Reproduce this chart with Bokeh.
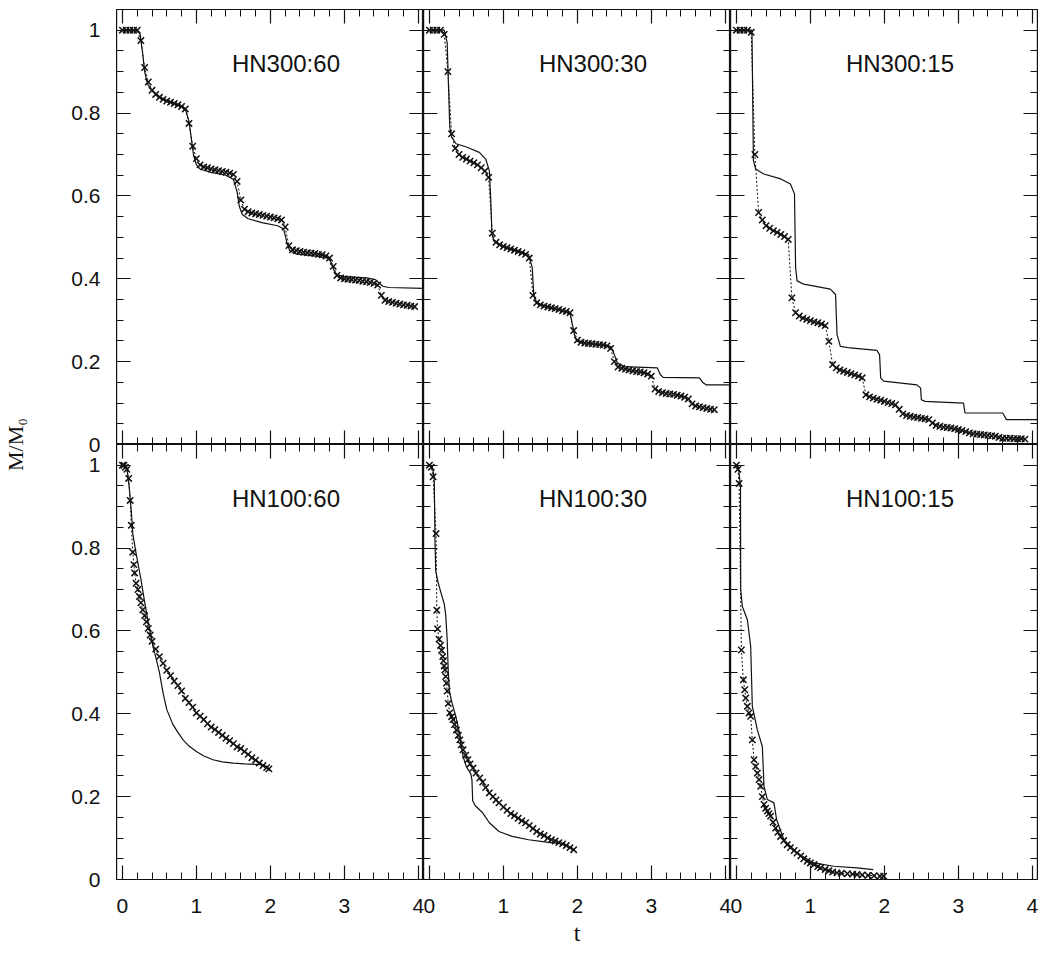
import numpy as np
from bokeh.plotting import figure
from bokeh.layouts import row, column
from bokeh.models import LinearAxis, FixedTicker, Label, Range1d
from bokeh.embed import file_html
from bokeh.resources import INLINE

# ---------------- data ----------------
panel_names = ["HN300:60", "HN300:30", "HN300:15", "HN100:60", "HN100:30", "HN100:15"]

x_tick_values = [0, 1, 2, 3, 4]
x_tick_labels = ["0", "1", "2", "3", "4"]
y_tick_values = [0.0, 0.2, 0.4, 0.6, 0.8, 1.0]
y_tick_labels = ["0", "0.2", "0.4", "0.6", "0.8", "1"]

# output times of the simulations shown with crosses (top row: every 0.05)
t_out_top = [round(0.05 * i, 2) for i in range(80)]

# HN300:60
line_t_300_60 = [0, 0.2, 0.24, 0.27, 0.30, 0.34, 0.4, 0.5, 0.6, 0.7, 0.8, 0.86, 0.9, 0.93, 0.96,
                 1.0, 1.05, 1.2, 1.4, 1.5, 1.55, 1.58, 1.62, 1.7, 1.9, 2.1, 2.18, 2.22, 2.26, 2.35,
                 2.6, 2.78, 2.82, 2.86, 2.9, 3.0, 3.3, 3.42, 3.47, 3.52, 3.6, 4.07]
line_m_300_60 = [1.0, 1.0, 0.99, 0.95, 0.90, 0.87, 0.855, 0.84, 0.83, 0.823, 0.815, 0.805, 0.78, 0.74, 0.70,
                 0.675, 0.665, 0.657, 0.65, 0.64, 0.61, 0.575, 0.555, 0.545, 0.535, 0.528, 0.52, 0.49, 0.468, 0.46,
                 0.455, 0.45, 0.44, 0.42, 0.41, 0.405, 0.402, 0.398, 0.39, 0.382, 0.379, 0.377]
mark_m_300_60 = [1.0, 1.0, 1.0, 1.0, 1.0, 0.975, 0.91, 0.875, 0.855, 0.845,
                 0.838, 0.833, 0.829, 0.826, 0.823, 0.82, 0.816, 0.81, 0.775, 0.72,
                 0.69, 0.675, 0.67, 0.668, 0.665, 0.663, 0.661, 0.659, 0.657, 0.655,
                 0.652, 0.635, 0.59, 0.568, 0.562, 0.559, 0.557, 0.555, 0.553, 0.551,
                 0.549, 0.547, 0.545, 0.542, 0.525, 0.48, 0.47, 0.468, 0.466, 0.464,
                 0.463, 0.462, 0.461, 0.459, 0.458, 0.455, 0.45, 0.43, 0.408, 0.402,
                 0.4, 0.399, 0.398, 0.397, 0.396, 0.394, 0.393, 0.391, 0.389, 0.385,
                 0.36, 0.348, 0.345, 0.343, 0.341, 0.339, 0.337, 0.336, 0.334, 0.333]

# HN300:30
line_t_300_30 = [0, 0.2, 0.24, 0.275, 0.30, 0.36, 0.5, 0.675, 0.76, 0.81, 0.83, 0.845, 0.875, 1.0, 1.12,
                 1.34, 1.39, 1.41, 1.45, 1.6, 1.9, 1.96, 1.99, 2.2, 2.45, 2.5, 2.54, 2.63, 3.08, 3.12,
                 3.16, 3.65, 3.7, 3.74, 4.07]
line_m_300_30 = [1.0, 1.0, 0.97, 0.766, 0.742, 0.726, 0.718, 0.705, 0.689, 0.661, 0.588, 0.508, 0.49, 0.478, 0.471,
                 0.459, 0.427, 0.362, 0.342, 0.332, 0.318, 0.266, 0.249, 0.243, 0.237, 0.217, 0.197, 0.188, 0.185, 0.169,
                 0.162, 0.161, 0.149, 0.144, 0.144]
mark_m_300_30 = [1.0, 1.0, 1.0, 1.0, 0.99, 0.90, 0.75, 0.715, 0.70, 0.693,
                 0.689, 0.684, 0.68, 0.675, 0.668, 0.66, 0.645, 0.51, 0.488, 0.482,
                 0.478, 0.475, 0.472, 0.469, 0.466, 0.463, 0.459, 0.45, 0.36, 0.342,
                 0.337, 0.334, 0.332, 0.33, 0.328, 0.326, 0.323, 0.321, 0.318, 0.275,
                 0.252, 0.247, 0.245, 0.244, 0.243, 0.242, 0.241, 0.24, 0.238, 0.232,
                 0.2, 0.187, 0.184, 0.182, 0.18, 0.178, 0.176, 0.175, 0.173, 0.17,
                 0.165, 0.134, 0.128, 0.125, 0.123, 0.122, 0.121, 0.119, 0.117, 0.114,
                 0.11, 0.098, 0.093, 0.091, 0.089, 0.087, 0.085, 0.084]

# HN300:15
line_t_300_15 = [0, 0.21, 0.23, 0.26, 0.37, 0.6, 0.73, 0.785, 0.80, 0.82, 0.91, 1.27, 1.34, 1.36, 1.405,
                 1.54, 1.9, 1.935, 1.95, 1.99, 2.44, 2.49, 2.5, 2.55, 3.07, 3.09, 3.6, 3.65, 4.07]
line_m_300_15 = [1.0, 1.0, 0.685, 0.665, 0.653, 0.641, 0.629, 0.605, 0.427, 0.395, 0.387, 0.375, 0.362, 0.266, 0.237,
                 0.233, 0.227, 0.217, 0.161, 0.153, 0.144, 0.136, 0.108, 0.104, 0.1, 0.076, 0.076, 0.06, 0.06]
mark_m_300_15 = [1.0, 1.0, 1.0, 1.0, 0.995, 0.70, 0.56, 0.542, 0.528, 0.522,
                 0.516, 0.512, 0.507, 0.502, 0.495, 0.354, 0.318, 0.31, 0.305, 0.302,
                 0.299, 0.296, 0.294, 0.291, 0.287, 0.249, 0.193, 0.185, 0.18, 0.177,
                 0.174, 0.171, 0.168, 0.165, 0.161, 0.12, 0.115, 0.112, 0.109, 0.107,
                 0.104, 0.101, 0.099, 0.096, 0.085, 0.074, 0.07, 0.068, 0.066, 0.065,
                 0.063, 0.062, 0.06, 0.052, 0.046, 0.044, 0.042, 0.041, 0.04, 0.038,
                 0.036, 0.034, 0.031, 0.028, 0.026, 0.025, 0.024, 0.023, 0.022, 0.021,
                 0.02, 0.017, 0.015, 0.015, 0.015, 0.014, 0.014, 0.014, 0.013]

# HN100:60
line_t_100_60 = [0, 0.05, 0.07, 0.09, 0.12, 0.14, 0.185, 0.25, 0.3, 0.35, 0.41, 0.46, 0.5, 0.55, 0.6,
                 0.68, 0.75, 0.82, 0.9, 1.0, 1.1, 1.225, 1.35, 1.5, 1.65, 1.88]
line_m_100_60 = [1.0, 1.0, 0.98, 0.95, 0.89, 0.835, 0.787, 0.725, 0.67, 0.62, 0.565, 0.53, 0.5, 0.45, 0.41,
                 0.375, 0.355, 0.337, 0.322, 0.309, 0.298, 0.289, 0.284, 0.281, 0.279, 0.277]
mark_t_100_60 = [0, 0.02, 0.04, 0.06, 0.085, 0.105, 0.12, 0.14, 0.155, 0.165, 0.185, 0.21, 0.23, 0.25, 0.275,
                 0.3, 0.325, 0.35, 0.375, 0.4, 0.45, 0.5, 0.55, 0.6, 0.65, 0.7, 0.75, 0.8, 0.85, 0.9,
                 0.95, 1.0, 1.05, 1.1, 1.15, 1.2, 1.25, 1.3, 1.35, 1.4, 1.45, 1.5, 1.55, 1.6, 1.65,
                 1.7, 1.75, 1.8, 1.85, 1.9, 1.95, 1.98]
mark_m_100_60 = [1.0, 1.0, 0.995, 0.99, 0.968, 0.915, 0.855, 0.79, 0.76, 0.74, 0.715, 0.70, 0.683, 0.668, 0.651,
                 0.637, 0.622, 0.606, 0.59, 0.575, 0.556, 0.538, 0.522, 0.505, 0.492, 0.479, 0.468, 0.455, 0.437, 0.427,
                 0.416, 0.402, 0.394, 0.386, 0.376, 0.368, 0.362, 0.355, 0.348, 0.341, 0.335, 0.328, 0.32, 0.316, 0.309,
                 0.302, 0.294, 0.288, 0.281, 0.275, 0.27, 0.267]

# HN100:30
line_t_100_30 = [0, 0.04, 0.065, 0.07, 0.075, 0.085, 0.12, 0.16, 0.2, 0.22, 0.24, 0.255, 0.27, 0.3, 0.35,
                 0.41, 0.45, 0.5, 0.56, 0.575, 0.585, 0.62, 0.72, 0.81, 0.94, 1.12, 1.34, 1.56, 1.74]
line_m_100_30 = [1.0, 0.995, 0.97, 0.9, 0.82, 0.745, 0.715, 0.69, 0.665, 0.64, 0.58, 0.5, 0.455, 0.43, 0.398,
                 0.352, 0.3, 0.272, 0.255, 0.24, 0.19, 0.178, 0.161, 0.137, 0.116, 0.104, 0.096, 0.091, 0.087]
mark_t_100_30 = [0, 0.025, 0.05, 0.09, 0.1, 0.11, 0.13, 0.15, 0.165, 0.18, 0.19, 0.2, 0.21, 0.22, 0.23,
                 0.24, 0.255, 0.275, 0.3, 0.32, 0.34, 0.365, 0.39, 0.41, 0.43, 0.455, 0.49, 0.52, 0.55, 0.59,
                 0.63, 0.68, 0.72, 0.76, 0.81, 0.86, 0.9, 0.94, 1.0, 1.05, 1.1, 1.15, 1.2, 1.25, 1.3,
                 1.35, 1.4, 1.45, 1.5, 1.55, 1.6, 1.65, 1.7, 1.75, 1.8, 1.85, 1.9, 1.95]
mark_m_100_30 = [1.0, 0.995, 0.972, 0.835, 0.65, 0.605, 0.58, 0.565, 0.553, 0.538, 0.528, 0.515, 0.506, 0.49, 0.474,
                 0.455, 0.425, 0.402, 0.393, 0.386, 0.374, 0.361, 0.348, 0.337, 0.325, 0.313, 0.30, 0.289, 0.279, 0.269,
                 0.257, 0.245, 0.235, 0.222, 0.209, 0.2, 0.192, 0.185, 0.175, 0.167, 0.159, 0.154, 0.148, 0.142, 0.137,
                 0.13, 0.123, 0.116, 0.11, 0.106, 0.1, 0.096, 0.093, 0.089, 0.086, 0.082, 0.077, 0.072]

# HN100:15
line_t_100_15 = [0, 0.03, 0.055, 0.058, 0.08, 0.148, 0.193, 0.215, 0.283, 0.35, 0.373, 0.418, 0.507, 0.543,
                 0.642, 0.82, 1.046, 1.315, 1.63, 1.85]
line_m_100_15 = [1.0, 0.99, 0.95, 0.7, 0.659, 0.627, 0.562, 0.418, 0.361, 0.321, 0.225, 0.193, 0.185, 0.145,
                 0.096, 0.064, 0.04, 0.032, 0.028, 0.024]
mark_t_100_15 = [0, 0.02, 0.036, 0.067, 0.094, 0.112, 0.126, 0.148, 0.17, 0.193, 0.215, 0.238, 0.26, 0.283, 0.305,
                 0.328, 0.35, 0.373, 0.395, 0.418, 0.44, 0.462, 0.495, 0.53, 0.56, 0.597, 0.64, 0.687, 0.73, 0.78,
                 0.82, 0.87, 0.91, 0.956, 1.0, 1.05, 1.1, 1.136, 1.2, 1.25, 1.3, 1.36, 1.42, 1.5, 1.57,
                 1.63, 1.7, 1.78, 1.86, 1.94, 1.99]
mark_m_100_15 = [1.0, 0.99, 0.956, 0.554, 0.482, 0.458, 0.438, 0.418, 0.402, 0.394, 0.337, 0.289, 0.273, 0.257, 0.241,
                 0.225, 0.2, 0.181, 0.172, 0.165, 0.159, 0.153, 0.138, 0.124, 0.114, 0.104, 0.094, 0.084, 0.077, 0.07,
                 0.064, 0.057, 0.05, 0.044, 0.04, 0.036, 0.031, 0.028, 0.024, 0.021, 0.018, 0.016, 0.015, 0.014, 0.013,
                 0.012, 0.011, 0.01, 0.009, 0.008, 0.008]

panels = [
    (line_t_300_60, line_m_300_60, t_out_top[:len(mark_m_300_60)], mark_m_300_60),
    (line_t_300_30, line_m_300_30, t_out_top[:len(mark_m_300_30)], mark_m_300_30),
    (line_t_300_15, line_m_300_15, t_out_top[:len(mark_m_300_15)], mark_m_300_15),
    (line_t_100_60, line_m_100_60, mark_t_100_60, mark_m_100_60),
    (line_t_100_30, line_m_100_30, mark_t_100_30, mark_m_100_30),
    (line_t_100_15, line_m_100_15, mark_t_100_15, mark_m_100_15),
]

# ---------------- layout / style ----------------
XR = (-0.08, 4.07)
YR = (0.0, 1.05)
FW, FH = 307, 435
TOP = 9
INK = "#111111"
SANS = "Liberation Sans"
SERIF = "Liberation Serif"

x_minor = [round(0.2 * i, 2) for i in range(21) if i % 5]
y_minor = [round(0.05 * i, 2) for i in range(21) if i % 4]


def frame_axis(loc, is_x):
    ticks = x_tick_values if is_x else y_tick_values
    minor = x_minor if is_x else y_minor
    return LinearAxis(fixed_location=loc,
                      ticker=FixedTicker(ticks=ticks, minor_ticks=minor),
                      major_tick_in=14, major_tick_out=0,
                      minor_tick_in=7, minor_tick_out=0,
                      major_tick_line_color=INK, minor_tick_line_color=INK,
                      major_tick_line_width=1.2, minor_tick_line_width=1.0,
                      axis_line_color=INK, axis_line_width=1.2,
                      major_label_text_color=None)


def make_panel(idx):
    top = idx < 3
    last = idx % 3 == 2
    lt, lm, mt, mm = panels[idx]
    p = figure(frame_width=FW, frame_height=FH,
               x_range=Range1d(*XR), y_range=Range1d(*YR),
               x_axis_location=None, y_axis_location=None,
               toolbar_location=None, tools="", output_backend="svg",
               min_border=0,
               min_border_top=TOP if top else 0,
               min_border_bottom=0 if top else 1,
               min_border_right=1 if last else 0,
               outline_line_color=INK, outline_line_width=1.2,
               background_fill_color="white", border_fill_color="white")
    p.grid.visible = False
    p.add_layout(frame_axis(YR[0], True), "below")
    p.add_layout(frame_axis(YR[1], True), "above")
    p.add_layout(frame_axis(XR[0], False), "left")
    p.add_layout(frame_axis(XR[1], False), "right")

    p.line(lt, lm, line_color=INK, line_width=1.2)
    p.line(mt, mm, line_color=INK, line_width=1.0, line_dash="2 2")
    p.scatter(mt, mm, marker="x", size=9, line_color=INK, line_width=1.5)

    p.add_layout(Label(x=1.48, y=0.92, text=panel_names[idx], text_font=SANS,
                       text_font_size="24px", text_baseline="middle", text_color=INK))
    return p


figs = [make_panel(i) for i in range(6)]

# left tick-label column: y tick labels for both rows and the M/M0 title
y_span = YR[1] - YR[0]
y_lab_ticks = [round(v, 4) for v in y_tick_values] + [round(v + y_span, 4) for v in y_tick_values]
y_lab_text = y_tick_labels + y_tick_labels
ax_fig = figure(frame_width=1, frame_height=2 * FH,
                x_range=Range1d(0, 1), y_range=Range1d(0, 2 * y_span),
                x_axis_location=None, y_axis_location="left",
                toolbar_location=None, tools="", output_backend="svg",
                min_border=0, min_border_left=115, min_border_top=TOP, min_border_bottom=55,
                outline_line_color=None, background_fill_color="white", border_fill_color="white")
ax_fig.grid.visible = False
ya = ax_fig.yaxis[0]
ya.ticker = FixedTicker(ticks=y_lab_ticks, minor_ticks=[])
ya.major_label_overrides = {k: v for k, v in zip(y_lab_ticks, y_lab_text)}
ya.major_tick_in = 0
ya.major_tick_out = 0
ya.minor_tick_in = 0
ya.minor_tick_out = 0
ya.axis_line_color = None
ya.major_label_standoff = 15
ya.major_label_text_font = SANS
ya.major_label_text_font_size = "21px"
ya.major_label_text_color = INK
ya.axis_label = "M/M\u2080"
ya.axis_label_text_font = SERIF
ya.axis_label_text_font_style = "normal"
ya.axis_label_text_font_size = "22px"
ya.axis_label_text_color = INK
ya.axis_label_standoff = 40

# bottom tick-label row: x tick labels for the three columns and the t title
x_span = XR[1] - XR[0]
x_lab_ticks = [round(v + k * x_span, 4) for k in range(3) for v in x_tick_values]
x_lab_text = x_tick_labels * 3
xl_fig = figure(frame_width=3 * FW, frame_height=1,
                x_range=Range1d(XR[0], XR[0] + 3 * x_span), y_range=Range1d(0, 1),
                x_axis_location="below", y_axis_location=None,
                toolbar_location=None, tools="", output_backend="svg",
                min_border=0, min_border_right=1,
                outline_line_color=None, background_fill_color="white", border_fill_color="white")
xl_fig.grid.visible = False
xa = xl_fig.xaxis[0]
xa.ticker = FixedTicker(ticks=x_lab_ticks, minor_ticks=[])
xa.major_label_overrides = {k: v for k, v in zip(x_lab_ticks, x_lab_text)}
xa.major_tick_in = 0
xa.major_tick_out = 0
xa.minor_tick_in = 0
xa.minor_tick_out = 0
xa.axis_line_color = None
xa.major_label_standoff = 17
xa.major_label_text_font = SANS
xa.major_label_text_font_size = "21px"
xa.major_label_text_color = INK
xa.axis_label = "t"
xa.axis_label_text_font = SERIF
xa.axis_label_text_font_style = "normal"
xa.axis_label_text_font_size = "24px"
xa.axis_label_text_color = INK
xa.axis_label_standoff = 4

layout = row(ax_fig, column(row(*figs[:3]), row(*figs[3:]), xl_fig))

open("out.html", "w").write(file_html(layout, INLINE))
